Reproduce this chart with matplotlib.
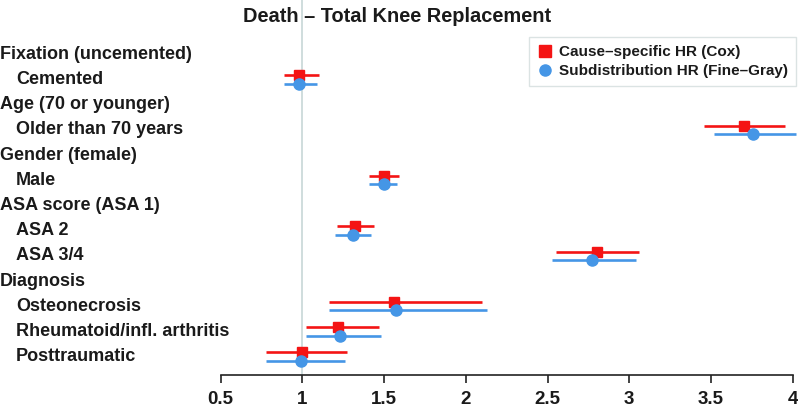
"""Forest plot: death after total knee replacement, Cox vs Fine-Gray HR."""
import matplotlib

matplotlib.use("Agg")
import matplotlib.pyplot as plt
import matplotlib.transforms as mtransforms
from matplotlib.lines import Line2D

plt.rcParams["font.family"] = ["Liberation Sans", "DejaVu Sans"]

TITLE = "Death \u2013 Total Knee Replacement"

row_labels = [
    "Fixation (uncemented)", "Cemented",
    "Age (70 or younger)", "Older than 70 years",
    "Gender (female)", "Male",
    "ASA score (ASA 1)", "ASA 2", "ASA 3/4",
    "Diagnosis", "Osteonecrosis", "Rheumatoid/infl. arthritis", "Posttraumatic",
]
is_header = [True, False, True, False, True, False, True, False, False,
             True, False, False, False]

# cause-specific HR (Cox) with 95% CI, None for header rows
cox_hr = [None, 0.98, None, 3.70, None, 1.50, None, 1.32, 2.80, None, 1.56, 1.22, 1.00]
cox_lo = [None, 0.89, None, 3.46, None, 1.41, None, 1.21, 2.55, None, 1.16, 1.02, 0.78]
cox_hi = [None, 1.10, None, 3.95, None, 1.59, None, 1.44, 3.06, None, 2.10, 1.47, 1.27]

# subdistribution HR (Fine-Gray)
fg_hr = [None, 0.98, None, 3.76, None, 1.50, None, 1.31, 2.77, None, 1.57, 1.23, 0.99]
fg_lo = [None, 0.89, None, 3.52, None, 1.41, None, 1.20, 2.53, None, 1.16, 1.02, 0.78]
fg_hi = [None, 1.09, None, 4.02, None, 1.58, None, 1.42, 3.04, None, 2.13, 1.48, 1.26]

x_ticks = [0.5, 1, 1.5, 2, 2.5, 3, 3.5, 4]
x_ticklabels = ["0.5", "1", "1.5", "2", "2.5", "3", "3.5", "4"]

RED = "#f41414"
BLUE = "#4596e6"
W, H = 798, 408


def main():
    fig = plt.figure(figsize=(W / 100, H / 100), dpi=100)
    ax = fig.add_axes([220.7 / W, 1 - 375 / H, (792.7 - 220.7) / W, 375 / H])

    ax.axvline(1.0, color="#cbdada", lw=1.3, zorder=0)

    off = 0.167
    for i in range(len(row_labels)):
        if is_header[i]:
            continue
        ax.plot([cox_lo[i], cox_hi[i]], [i - off] * 2, color=RED, lw=1.9,
                solid_capstyle="butt", clip_on=False, zorder=2)
        ax.plot(cox_hr[i], i - off, marker="s", color=RED, ms=7.8, zorder=3,
                clip_on=False)
        ax.plot([fg_lo[i], fg_hi[i]], [i + off] * 2, color=BLUE, lw=1.9,
                solid_capstyle="butt", clip_on=False, zorder=2)
        ax.plot(fg_hr[i], i + off, marker="o", color=BLUE, ms=8, zorder=3,
                clip_on=False)

    ax.set_xlim(0.5, 4)
    ax.set_ylim(12.73, -2.155)
    ax.set_yticks([])
    ax.set_xticks(x_ticks)
    ax.set_xticklabels(x_ticklabels, fontsize=13.5, fontweight="bold")
    ax.tick_params(axis="x", direction="out", length=6, width=1.2,
                   color="#222222", labelcolor="#1a1a1a", pad=5.5)
    for side in ("left", "right", "top"):
        ax.spines[side].set_visible(False)
    ax.spines["bottom"].set_linewidth(1.2)
    ax.spines["bottom"].set_color("#222222")
    ax.set_facecolor("none")

    # row labels on the left, in figure x / data y
    trans = mtransforms.blended_transform_factory(fig.transFigure, ax.transData)
    for i, lab in enumerate(row_labels):
        x = 0 / W if is_header[i] else 16 / W
        fig.text(x, i, lab, transform=trans, ha="left", va="center",
                 fontsize=13, fontweight="bold", color="#1a1a1a")

    fig.text(397 / W, 1 - 16 / H, TITLE, ha="center", va="center",
             fontsize=14.4, fontweight="bold", color="#1a1a1a")

    handles = [
        Line2D([], [], ls="none", marker="s", color=RED, ms=8),
        Line2D([], [], ls="none", marker="o", color=BLUE, ms=8),
    ]
    leg = fig.legend(handles, ["Cause\u2013specific HR (Cox)",
                               "Subdistribution HR (Fine\u2013Gray)"],
                     loc="upper right", bbox_to_anchor=(796 / W, 1 - 37 / H),
                     fontsize=11, frameon=True, fancybox=False,
                     handletextpad=0.4, borderpad=0.55, labelspacing=0.3,
                     handlelength=1.0, borderaxespad=0)
    leg.get_frame().set_edgecolor("#d3dcdc")
    leg.get_frame().set_linewidth(1.0)
    for t in leg.get_texts():
        t.set_fontweight("bold")
        t.set_color("#1a1a1a")

    fig.savefig("out.png", dpi=100)


if __name__ == "__main__":
    main()
